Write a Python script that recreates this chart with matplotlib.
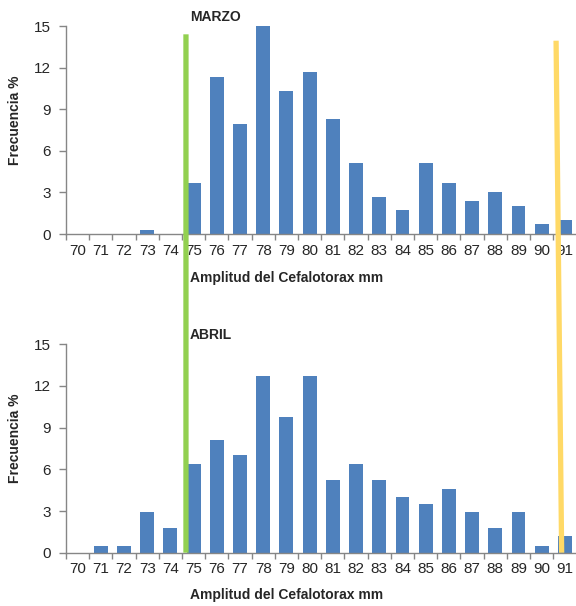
import matplotlib
matplotlib.use("Agg")
import matplotlib.pyplot as plt
from matplotlib.patches import ConnectionPatch

plt.rcParams['font.family'] = ['Liberation Sans', 'DejaVu Sans']

categories = [str(v) for v in range(70, 92)]
marzo = [0, 0, 0, 0.3, 0, 3.7, 11.3, 7.9, 15.0, 10.3, 11.7, 8.3, 5.1, 2.7, 1.7,
         5.1, 3.7, 2.4, 3.0, 2.0, 0.7, 1.0]
abril = [0, 0.5, 0.5, 2.9, 1.8, 6.4, 8.1, 7.0, 12.7, 9.8, 12.7, 5.2, 6.4, 5.2, 4.0,
         3.5, 4.6, 2.9, 1.8, 2.9, 0.5, 1.2]
yticks = [0, 3, 6, 9, 12, 15]
titles = ["MARZO", "ABRIL"]
xlabel = "Amplitud del Cefalotorax mm"
ylabel = "Frecuencia %"

bar_color = "#4F81BD"
spine_color = "#868686"
text_color = "#262626"

fig = plt.figure(figsize=(5.76, 6.06), dpi=100)
W, H = 576, 606

def add_axes(left_px, right_px, top_px, bottom_px):
    return fig.add_axes([left_px / W, 1 - bottom_px / H,
                         (right_px - left_px) / W, (bottom_px - top_px) / H])

ax1 = add_axes(66, 576.5, 26, 234)
ax2 = add_axes(66, 576.5, 344.3, 552.7)

x = list(range(len(categories)))
for ax, vals in [(ax1, marzo), (ax2, abril)]:
    ax.bar(x, vals, width=0.6, color=bar_color, zorder=2)
    ax.set_xlim(-0.5, len(categories) - 0.5)
    ax.set_ylim(0, 15)
    ax.set_yticks(yticks)
    ax.set_yticklabels([str(t) for t in yticks])
    ax.set_xticks(x)
    ax.set_xticklabels(categories)
    ax.set_xticks([i - 0.5 for i in range(len(categories) + 1)], minor=True)
    ax.tick_params(axis='x', which='major', length=0, pad=7, labelsize=11,
                   labelcolor=text_color)
    ax.tick_params(axis='x', which='minor', length=4, width=1, color=spine_color,
                   direction='out')
    ax.tick_params(axis='y', which='major', length=5, width=1, color=spine_color,
                   pad=6, labelsize=11, labelcolor=text_color)
    for s in ['top', 'right']:
        ax.spines[s].set_visible(False)
    for s in ['left', 'bottom']:
        ax.spines[s].set_color(spine_color)
        ax.spines[s].set_linewidth(1)
    ax.set_ylabel(ylabel, fontsize=10, fontweight='bold', color=text_color)
    ax.set_xlabel(xlabel, fontsize=10, fontweight='bold', color=text_color)
    ax.patch.set_visible(False)

# label placements
ax1.yaxis.set_label_coords(-15 / 510.5 - 0.0 - (66 - 15) / 510.5 + 15 / 510.5, 1 - (120 - 26) / 208)
ax2.yaxis.set_label_coords(-(66 - 15) / 510.5, 1 - (438 - 344.3) / 208.4)
for ax, ycen, ytop, ybot in [(ax1, 278, 26, 234), (ax2, 595, 344.3, 552.7)]:
    ax.xaxis.set_label_coords((190 - 66) / 510.5, -(ycen - ybot) / (ybot - ytop))
    ax.xaxis.label.set_ha('left')
    ax.xaxis.label.set_va('center')
for lbl in [ax1.yaxis.label, ax2.yaxis.label]:
    lbl.set_va('center')

fig.text(190 / W, 1 - 17 / H, titles[0], fontsize=10, fontweight='bold',
         color=text_color, ha='left', va='center')
fig.text(190 / W, 1 - 335 / H, titles[1], fontsize=10, fontweight='bold',
         color=text_color, ha='left', va='center')

# vertical reference lines spanning both panels
green_x = 4.67
yellow_top_x, yellow_bot_x = 20.62, 20.86
green = ConnectionPatch(xyA=(green_x, 14.4), coordsA="data", axesA=ax1,
                        xyB=(green_x, 0), coordsB="data", axesB=ax2,
                        color="#92D050", linewidth=3.8, capstyle='butt', zorder=5)
yellow = ConnectionPatch(xyA=(yellow_top_x, 13.94), coordsA="data", axesA=ax1,
                         xyB=(yellow_bot_x, 0), coordsB="data", axesB=ax2,
                         color="#FFD966", linewidth=3.8, capstyle='butt', zorder=5)
fig.add_artist(green)
fig.add_artist(yellow)

fig.savefig("out.png", dpi=100)
